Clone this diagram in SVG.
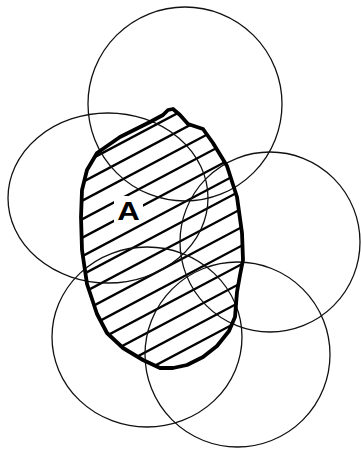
<svg xmlns="http://www.w3.org/2000/svg" width="361" height="451" viewBox="0 0 361 451">
<style>
.c{fill:none;stroke:#111;stroke-width:1.3}
.h{stroke:#000;stroke-width:2.4}
.o{fill:none;stroke:#000;stroke-width:3.8;stroke-linejoin:round}
.t{font-family:"Liberation Sans",Arial,sans-serif;font-weight:bold;font-size:26px;fill:#000}
</style>
<defs>
<clipPath id="blobclip">
<path id="blobpath" d="M173,109 L180,115 L188,124 L203,129 L213,143 L227,166 L237,197 L242,233 L243,260 L240,275 L237,292 L235,317 L229,331 L217,346 L203,357 L187,365 L173,368 L160,368 L143,360 L123,348 L107,333 L97,314 L87,284 L82,250 L81,217 L82,190 L87,170 L97,153 L120,137 L150,122 L163,115 L168,110 Z"/>
</clipPath>
</defs>
<rect width="361" height="451" fill="#fff"/>
<g id="hatch" clip-path="url(#blobclip)">
<line class="h" x1="60" y1="101.5" x2="260" y2="-4.5"/>
<line class="h" x1="60" y1="120" x2="260" y2="14"/>
<line class="h" x1="60" y1="138.5" x2="260" y2="32.5"/>
<line class="h" x1="60" y1="157" x2="260" y2="51"/>
<line class="h" x1="60" y1="175.5" x2="260" y2="69.5"/>
<line class="h" x1="60" y1="194" x2="260" y2="88"/>
<line class="h" x1="60" y1="212.5" x2="260" y2="106.5"/>
<line class="h" x1="60" y1="231" x2="260" y2="125"/>
<line class="h" x1="60" y1="249.5" x2="260" y2="143.5"/>
<line class="h" x1="60" y1="268" x2="260" y2="162"/>
<line class="h" x1="60" y1="286.5" x2="260" y2="180.5"/>
<line class="h" x1="60" y1="305" x2="260" y2="199"/>
<line class="h" x1="60" y1="323.5" x2="260" y2="217.5"/>
<line class="h" x1="60" y1="342" x2="260" y2="236"/>
<line class="h" x1="60" y1="360.5" x2="260" y2="254.5"/>
<line class="h" x1="60" y1="379" x2="260" y2="273"/>
<line class="h" x1="60" y1="397.5" x2="260" y2="291.5"/>
<line class="h" x1="60" y1="416" x2="260" y2="310"/>
<line class="h" x1="60" y1="434.5" x2="260" y2="328.5"/>
<line class="h" x1="60" y1="453" x2="260" y2="347"/>
</g>
<rect x="114" y="196" width="29" height="26" fill="#fff"/>
<g id="circles">
<circle id="c-top" class="c" cx="185" cy="104" r="97"/>
<ellipse id="c-left" class="c" cx="108" cy="198" rx="100" ry="85"/>
<circle id="c-right" class="c" cx="270" cy="242" r="90"/>
<ellipse id="c-bottom-left" class="c" cx="147" cy="337" rx="95" ry="90"/>
<circle id="c-bottom-right" class="c" cx="237.5" cy="354.5" r="92.5"/>
</g>
<g id="region-A">
<use href="#blobpath" class="o"/>
<text class="t" x="0" y="0" text-anchor="middle" transform="translate(128.5,219.5) scale(1.2,1)">A</text>
</g>
</svg>
